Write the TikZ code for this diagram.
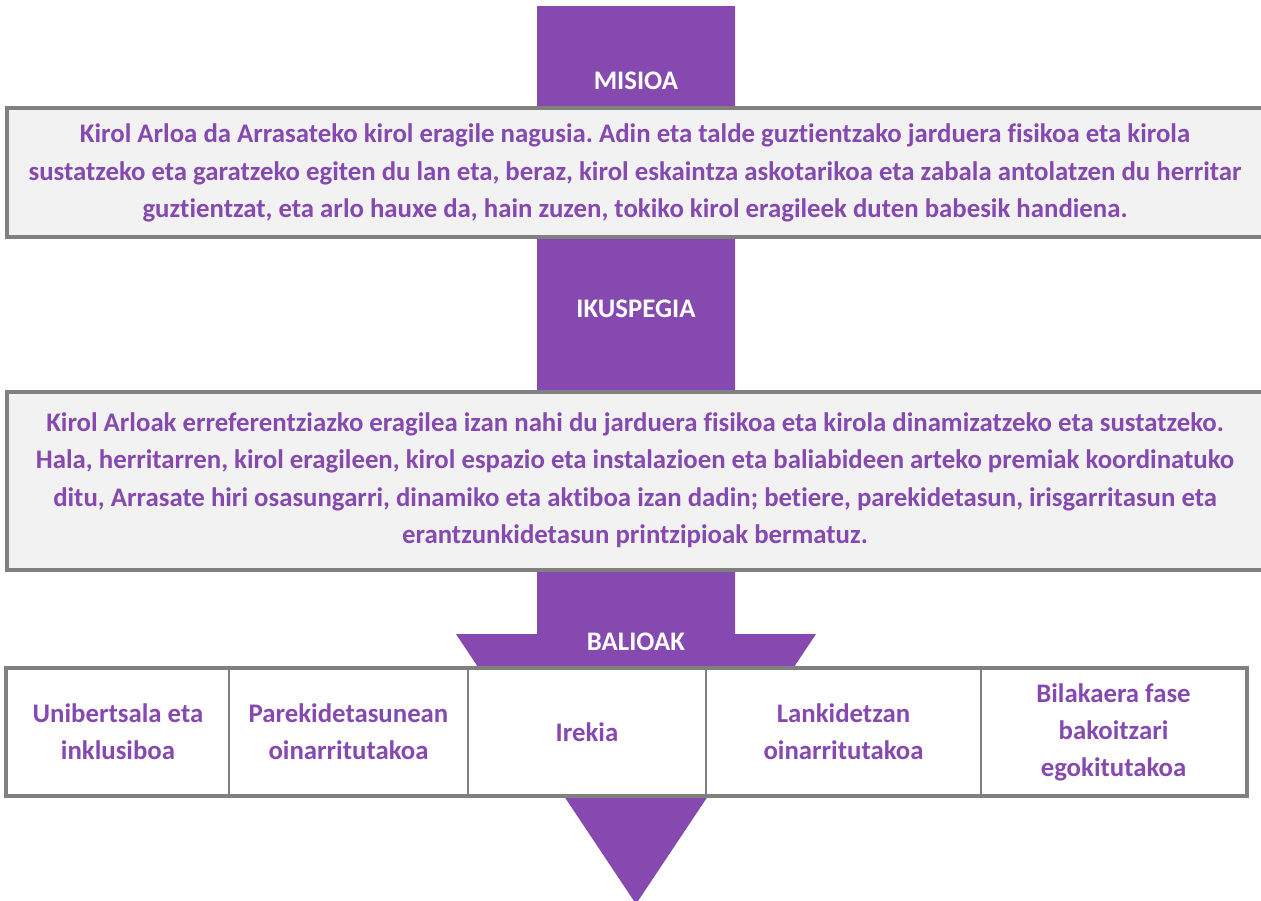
\documentclass[tikz,border=0pt]{standalone}
\usepackage{fontspec}
\setmainfont{Carlito}[Ligatures=NoCommon]
\frenchspacing
\definecolor{purp}{HTML}{8549B0}
\definecolor{frame}{HTML}{808080}
\definecolor{boxfill}{HTML}{F2F2F2}
\tikzset{
  panel/.style={draw=frame, line width=4pt, fill=boxfill, inner sep=0pt},
  cell/.style={draw=frame, line width=2pt, fill=white, inner sep=0pt, minimum height=126pt},
  bodytext/.style={text=purp, font=\fontsize{26.8}{37.5}\selectfont\bfseries, align=center, inner sep=0pt},
  celltext/.style={text=purp, font=\fontsize{26.8}{37}\selectfont\bfseries, align=center, inner sep=0pt},
  label/.style={text=white, font=\fontsize{26.8}{30}\selectfont\bfseries, inner sep=0pt}
}
\begin{document}
\begin{tikzpicture}[x=1pt,y=-1pt]
\useasboundingbox (0,0) rectangle (1261,900);
% purple arrow behind everything
\fill[purp] (537,6) -- (735,6) -- (735,634) -- (816,634) -- (636,904) -- (456,634) -- (537,634) -- cycle;
% mission box
\node[panel, minimum width=1260pt, minimum height=128.5pt] (mbox) at (637,172.25) {};
\node[bodytext] (mtext) at (635,173) {Kirol Arloa da Arrasateko kirol eragile nagusia. Adin eta talde guztientzako jarduera fisikoa eta kirola\\
sustatzeko eta garatzeko egiten du lan eta, beraz, kirol eskaintza askotarikoa eta zabala antolatzen du herritar\\
guztientzat, eta arlo hauxe da, hain zuzen, tokiko kirol eragileek duten babesik handiena.};
% vision box
\node[panel, minimum width=1260pt, minimum height=178pt] (vbox) at (637,480.5) {};
\node[bodytext] (vtext) at (635,480) {Kirol Arloak erreferentziazko eragilea izan nahi du jarduera fisikoa eta kirola dinamizatzeko eta sustatzeko.\\
Hala, herritarren, kirol eragileen, kirol espazio eta instalazioen eta baliabideen arteko premiak koordinatuko\\
ditu, Arrasate hiri osasungarri, dinamiko eta aktiboa izan dadin; betiere, parekidetasun, irisgarritasun eta\\
erantzunkidetasun printzipioak bermatuz.};
% labels
\node[label] (lmis) at (636,81) {MISIOA};
\node[label] (lvis) at (636,309) {IKUSPEGIA};
\node[label] (lval) at (636,642) {BALIOAK};
% values table
\node[cell, minimum width=222pt] (c1) at (118,732) {};
\node[cell, minimum width=239pt] (c2) at (348.5,732) {};
\node[cell, minimum width=238pt] (c3) at (587,732) {};
\node[cell, minimum width=275pt] (c4) at (843.5,732) {};
\node[cell, minimum width=265pt] (c5) at (1113.5,732) {};
\draw[frame, line width=4pt] (c1.north west) rectangle (c5.south east);
\node[celltext] (t1) at (c1) {Unibertsala eta\\inklusiboa};
\node[celltext] (t2) at (c2) {Parekidetasunean\\oinarritutakoa};
\node[celltext] (t3) at (c3) {Irekia};
\node[celltext] (t4) at (c4) {Lankidetzan\\oinarritutakoa};
\node[celltext] (t5) at (c5) {Bilakaera fase\\bakoitzari\\egokitutakoa};
\end{tikzpicture}
\end{document}
